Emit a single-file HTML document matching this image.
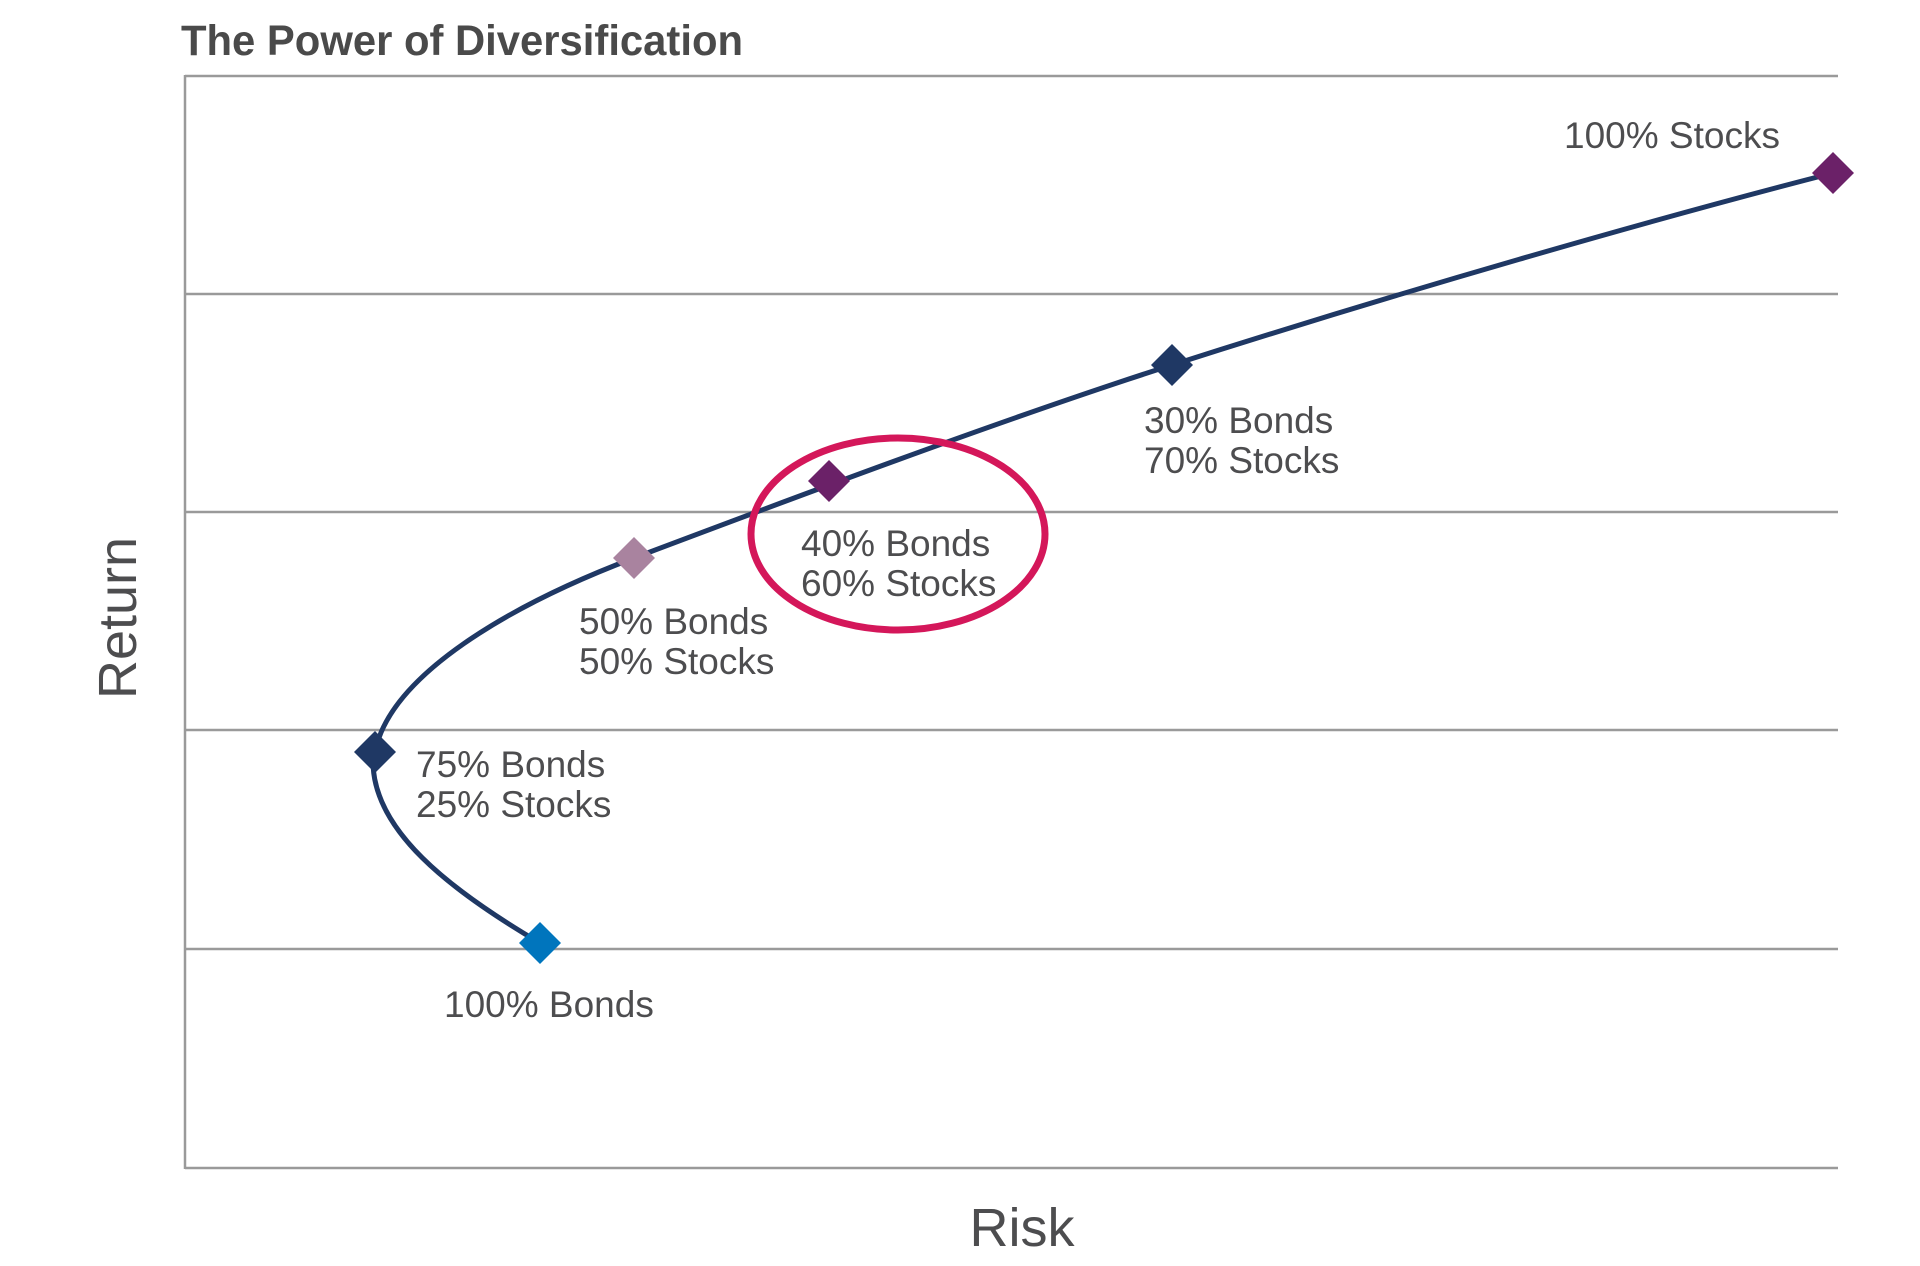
<!DOCTYPE html>
<html><head><meta charset="utf-8"><style>
html,body{margin:0;padding:0;background:#fff;}
svg{display:block}
text{font-family:"Liberation Sans",sans-serif;fill:#4d4d4f}
</style></head><body>
<svg width="1920" height="1266" viewBox="0 0 1920 1266">
<rect width="1920" height="1266" fill="#fff"/>
<text x="181" y="55" font-size="43" font-weight="bold" textLength="562" lengthAdjust="spacingAndGlyphs" style="fill:#4a4a4a">The Power of Diversification</text>
<g stroke="#9a9a9a" stroke-width="2.5" fill="none">
<line x1="185" y1="76" x2="1838" y2="76"/>
<line x1="185" y1="294" x2="1838" y2="294"/>
<line x1="185" y1="512" x2="1838" y2="512"/>
<line x1="185" y1="730" x2="1838" y2="730"/>
<line x1="185" y1="949" x2="1838" y2="949"/>
<line x1="185" y1="1168" x2="1838" y2="1168"/>
<line x1="185" y1="75" x2="185" y2="1169"/>
</g>
<text transform="translate(136,618) rotate(-90)" text-anchor="middle" font-size="54">Return</text>
<text x="1022" y="1246" text-anchor="middle" font-size="54">Risk</text>
<path d="M540,943 C450,890 372,830 373,760 L375,752 C 390,675 510,605 634,558 C 780,503 1000,420 1172,365 C 1400,292 1650,220 1833,173" stroke="#1f3864" stroke-width="5" fill="none"/>
<ellipse cx="898" cy="534" rx="147" ry="96" stroke="#d4175a" stroke-width="7" fill="none"/>
<g>
<path d="M540,922 L561,943 L540,964 L519,943Z" fill="#0075bd"/>
<path d="M375,731 L396,752 L375,773 L354,752Z" fill="#1f3864"/>
<path d="M634,537 L655,558 L634,579 L613,558Z" fill="#a9839f"/>
<path d="M829,460 L850,481 L829,502 L808,481Z" fill="#6b2168"/>
<path d="M1172,344 L1193,365 L1172,386 L1151,365Z" fill="#1f3864"/>
<path d="M1833,152 L1854,173 L1833,194 L1812,173Z" fill="#6b2168"/>
</g>
<g font-size="37">
<text x="1564" y="148">100% Stocks</text>
<text x="1144" y="433">30% Bonds</text>
<text x="1144" y="473">70% Stocks</text>
<text x="801" y="556">40% Bonds</text>
<text x="801" y="596">60% Stocks</text>
<text x="579" y="634">50% Bonds</text>
<text x="579" y="674">50% Stocks</text>
<text x="416" y="777">75% Bonds</text>
<text x="416" y="817">25% Stocks</text>
<text x="444" y="1017">100% Bonds</text>
</g>
</svg>
</body></html>
